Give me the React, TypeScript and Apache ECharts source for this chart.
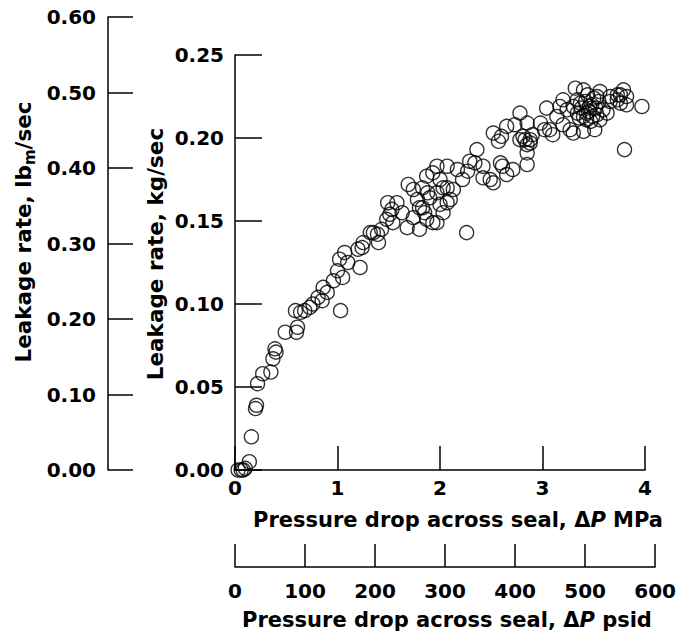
import React, { useEffect, useRef } from "react";
import * as echarts from "echarts";

// Pressure drop across seal (MPa) and leakage rate (kg/sec)
const pressureMPa: number[] = [
  0.03, 0.06, 0.08, 0.10, 0.14, 0.16, 0.20, 0.21, 0.22, 0.27, 0.35, 0.37, 0.40, 0.39, 0.49, 0.60, 0.61, 0.59, 0.64, 0.68, 0.73, 0.76, 1.03,
  0.81, 0.85, 0.86, 0.90, 0.96, 1.00, 1.05, 1.02, 1.07, 1.10, 1.22, 1.20, 1.24, 1.25, 1.32, 1.39, 1.40, 1.35, 1.43, 1.48, 1.51, 1.54, 1.53, 1.49, 1.58, 1.63, 1.68, 1.74, 1.69, 1.74, 1.78, 1.80, 1.80, 1.85, 1.90, 1.97, 1.93, 1.88, 1.97, 2.03, 2.00, 2.07, 2.03,
  2.26, 1.87, 1.83, 2.10, 2.13, 2.07, 2.00, 1.93, 1.87, 1.83, 2.17, 2.07, 1.97, 2.22, 2.29, 2.36, 2.34, 2.42, 2.27, 2.42, 2.49, 2.52, 2.59, 2.61, 2.65, 2.71, 2.85, 2.52, 2.57, 2.60, 2.65, 2.73, 2.78, 2.85, 2.88, 2.85, 2.81, 2.98, 3.02,
  3.80, 3.97, 2.85, 2.83, 2.88, 2.90, 3.04, 3.07, 3.10, 3.14, 3.17, 3.20, 3.27, 3.30, 3.34, 3.32, 3.40, 3.40, 3.51, 3.46, 3.53, 3.56, 3.59, 3.66, 3.73, 3.76, 3.79, 3.82, 3.73, 3.37, 3.43, 3.49, 3.63, 3.56, 3.43, 3.34, 3.30, 3.24, 3.20, 3.66, 3.76, 3.82,
  3.38, 3.42, 3.45, 3.48, 3.50, 3.52, 3.40, 3.47, 3.55, 3.44, 3.36, 3.53, 2.78,
];
const leakageKg: number[] = [
  0.000, 0.000, 0.000, 0.001, 0.005, 0.020, 0.037, 0.039, 0.052, 0.058, 0.059, 0.067, 0.071, 0.073, 0.083, 0.083, 0.086, 0.096, 0.095, 0.096, 0.098, 0.100, 0.096,
  0.104, 0.102, 0.110, 0.107, 0.114, 0.120, 0.116, 0.127, 0.131, 0.125, 0.122, 0.133, 0.134, 0.137, 0.143, 0.142, 0.137, 0.143, 0.145, 0.151, 0.154, 0.149, 0.157, 0.161, 0.161, 0.155, 0.146, 0.152, 0.172, 0.169, 0.163, 0.158, 0.145, 0.155, 0.164, 0.149, 0.149, 0.167, 0.167, 0.170, 0.160, 0.161, 0.155,
  0.143, 0.151, 0.158, 0.163, 0.169, 0.170, 0.175, 0.179, 0.177, 0.170, 0.181, 0.183, 0.183, 0.175, 0.186, 0.193, 0.185, 0.183, 0.180, 0.176, 0.175, 0.173, 0.185, 0.183, 0.178, 0.181, 0.184, 0.203, 0.198, 0.201, 0.207, 0.208, 0.199, 0.196, 0.199, 0.191, 0.201, 0.209, 0.205,
  0.193, 0.219, 0.209, 0.199, 0.197, 0.202, 0.218, 0.205, 0.202, 0.213, 0.219, 0.208, 0.205, 0.203, 0.223, 0.230, 0.204, 0.229, 0.205, 0.219, 0.225, 0.228, 0.217, 0.222, 0.223, 0.221, 0.229, 0.220, 0.226, 0.221, 0.215, 0.213, 0.215, 0.211, 0.211, 0.215, 0.219, 0.217, 0.223, 0.225, 0.226, 0.225,
  0.218, 0.222, 0.216, 0.220, 0.224, 0.218, 0.213, 0.210, 0.222, 0.226, 0.212, 0.214, 0.215,
];

// Axis ranges / tick steps
const mpaRange = [0, 4, 1];
const kgRange = [0, 0.25, 0.05];
const lbmRange = [0, 0.6, 0.1];
const psiRange = [0, 600, 100];

const FONT = "DejaVu Sans";

export default function App() {
  const ref = useRef<HTMLDivElement>(null);
  useEffect(() => {
    if (!ref.current) return;
    const chart = echarts.init(ref.current, null, { renderer: "svg" });
    const axisLine = { show: true, onZero: false, lineStyle: { color: "#000", width: 1.5 } };
    const labelStyle = { color: "#000", fontFamily: FONT, fontWeight: "bold" as const, fontSize: 20 };
    const mkRich = (size: number) => ({
      a: { fontFamily: FONT, fontWeight: "bold", fontSize: size, color: "#000", lineHeight: size + 8 },
      i: { fontFamily: FONT, fontWeight: "bold", fontStyle: "italic", fontSize: size, color: "#000", lineHeight: size + 8 },
      s: { fontFamily: FONT, fontWeight: "bold", fontSize: Math.round(size * 0.7), color: "#000", lineHeight: Math.round(size * 0.7), verticalAlign: "bottom" },
    });
    const vRich = mkRich(21.5);
    const hRich = mkRich(21);
    const data = pressureMPa.map((p, k) => [p, leakageKg[k]]);
    chart.setOption({
      animation: false,
      backgroundColor: "#fff",
      grid: [
        { left: 235, top: 55, width: 410, height: 415 },
        { left: 108, top: 17, width: 10, height: 453 },
        { left: 235, top: 537, width: 421, height: 30 },
      ],
      xAxis: [
        {
          gridIndex: 0, type: "value", min: mpaRange[0], max: mpaRange[1], interval: mpaRange[2],
          axisLine, splitLine: { show: false },
          axisTick: { show: true, inside: true, length: 24, lineStyle: { color: "#000", width: 1.5 } },
          axisLabel: { ...labelStyle, margin: 8 },
        },
        { gridIndex: 1, type: "value", show: false },
        {
          gridIndex: 2, type: "value", min: psiRange[0], max: psiRange[1], interval: psiRange[2], position: "bottom",
          axisLine, splitLine: { show: false },
          axisTick: { show: true, inside: true, length: 23, lineStyle: { color: "#000", width: 1.5 } },
          axisLabel: { ...labelStyle, margin: 14 },
        },
      ],
      yAxis: [
        {
          gridIndex: 0, type: "value", min: kgRange[0], max: kgRange[1], interval: kgRange[2],
          axisLine, splitLine: { show: false },
          axisTick: { show: true, inside: true, length: 27, lineStyle: { color: "#000", width: 1.5 } },
          axisLabel: { ...labelStyle, margin: 11, formatter: (v: number) => v.toFixed(2) },
        },
        {
          gridIndex: 1, type: "value", min: lbmRange[0], max: lbmRange[1], interval: lbmRange[2],
          axisLine, splitLine: { show: false },
          axisTick: { show: true, inside: true, length: 25, lineStyle: { color: "#000", width: 1.5 } },
          axisLabel: { ...labelStyle, margin: 12, formatter: (v: number) => v.toFixed(2) },
        },
        { gridIndex: 2, type: "value", show: false },
      ],
      graphic: [
        {
          type: "text", x: 23, y: 232, rotation: Math.PI / 2,
          style: { text: "{a|Leakage rate, lb}{s|m}{a|/sec}", rich: vRich, align: "center", verticalAlign: "middle" },
        },
        {
          type: "text", x: 155, y: 254, rotation: Math.PI / 2,
          style: { text: "{a|Leakage rate, kg/sec}", rich: vRich, align: "center", verticalAlign: "middle" },
        },
        {
          type: "text", x: 458, y: 520,
          style: { text: "{a|Pressure drop across seal, Δ}{i|P}{a| MPa}", rich: hRich, align: "center", verticalAlign: "middle" },
        },
        {
          type: "text", x: 447, y: 620,
          style: { text: "{a|Pressure drop across seal, Δ}{i|P}{a| psid}", rich: hRich, align: "center", verticalAlign: "middle" },
        },
      ],
      series: [
        {
          type: "scatter", xAxisIndex: 0, yAxisIndex: 0, data,
          symbol: "circle", symbolSize: 14, clip: false,
          itemStyle: { color: "transparent", borderColor: "#000", borderWidth: 1.4 },
          emphasis: { disabled: true },
        },
      ],
    });
    return () => chart.dispose();
  }, []);
  return <div ref={ref} style={{ position: "fixed", left: 0, top: 0, width: 679, height: 634, background: "#fff" }} />;
}
